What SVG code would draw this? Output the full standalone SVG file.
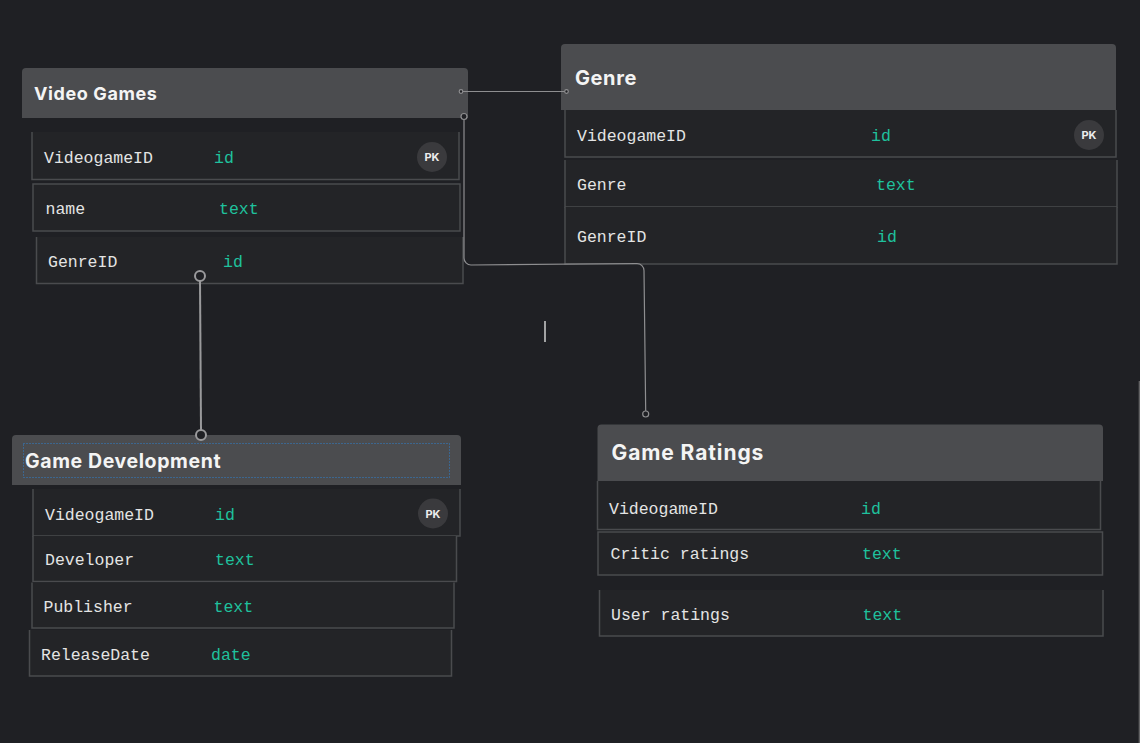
<svg xmlns="http://www.w3.org/2000/svg" width="1140" height="743" viewBox="0 0 1140 743">
<style>
.hdr{fill:#4b4c4f}
.row{fill:#232427}
.bd{fill:none;stroke:#4a4b4e;stroke-width:1.5}
.title{font-family:Inter,"Noto Sans","Liberation Sans",sans-serif;font-weight:700;fill:#f4f4f4;letter-spacing:0.6px}
.f{font-family:"Liberation Mono","DejaVu Sans Mono",monospace;font-size:16.5px;fill:#e4e4e4}
.t{font-family:"Liberation Mono","DejaVu Sans Mono",monospace;font-size:16.5px;fill:#1fc19d}
.pkc{fill:#3a3a3d}
.pk{font-family:Inter,"Liberation Sans",sans-serif;font-weight:700;font-size:11px;fill:#ececec;text-anchor:middle}
.conn{fill:none;stroke:#8e8e90;stroke-width:1.2}
.conn2{fill:none;stroke:#9a9a9c;stroke-width:2}
.dot{fill:#1f2024;stroke:#8e8e90;stroke-width:1.2}
.dot2{fill:#1f2024;stroke:#9a9a9c;stroke-width:2}
</style>
<rect width="1140" height="743" fill="#1f2024"/>
<line x1="1139.3" y1="381" x2="1139.3" y2="743" stroke="#6a6a6c" stroke-width="1.2"/>
<line x1="545" y1="321" x2="545" y2="342" stroke="#cfcfcf" stroke-width="1.5"/>

<g id="video-games">
<path class="hdr" d="M22 118V72a4 4 0 0 1 4-4h438a4 4 0 0 1 4 4v46z"/>
<text class="title" x="34" y="99.5" font-size="18">Video Games</text>
<rect class="row" x="32" y="132" width="427" height="47.5"/>
<path class="bd" d="M32 132V179.5H459V132"/>
<text class="f" x="44" y="163">VideogameID</text>
<text class="t" x="214" y="163">id</text>
<circle class="pkc" cx="432" cy="157" r="15"/>
<text class="pk" x="432" y="161">PK</text>
<rect class="row" x="33" y="184" width="427" height="47" />
<rect class="bd" x="33" y="184" width="427" height="47"/>
<text class="f" x="45.5" y="214">name</text>
<text class="t" x="219" y="214">text</text>
<rect class="row" x="36.5" y="237" width="426.5" height="46.5"/>
<path class="bd" d="M36.5 237V283.5H463V237"/>
<text class="f" x="48" y="267">GenreID</text>
<text class="t" x="223" y="267">id</text>
</g>

<g id="genre">
<path class="hdr" d="M561 110V48a4 4 0 0 1 4-4h547a4 4 0 0 1 4 4v62z"/>
<text class="title" x="575" y="85" font-size="20">Genre</text>
<rect class="row" x="565" y="110" width="551" height="47"/>
<path class="bd" d="M565 110V157H1116V110"/>
<text class="f" x="577" y="141">VideogameID</text>
<text class="t" x="871" y="141">id</text>
<circle class="pkc" cx="1089" cy="135" r="15"/>
<text class="pk" x="1089" y="139">PK</text>
<rect class="row" x="565" y="160" width="552" height="47"/>
<path class="bd" d="M565 160V207H1117V160"/>
<text class="f" x="577" y="190">Genre</text>
<text class="t" x="876" y="190">text</text>
<rect class="row" x="565" y="207" width="552" height="57"/>
<path class="bd" d="M565 207V264H1117V207"/>
<text class="f" x="577" y="242">GenreID</text>
<text class="t" x="877" y="242">id</text>
</g>

<g id="game-development">
<path class="hdr" d="M12 485V439a4 4 0 0 1 4-4h441a4 4 0 0 1 4 4v46z"/>
<rect x="23.5" y="443.5" width="426" height="34" fill="none" stroke="#2f80d0" stroke-width="1" stroke-dasharray="1 2"/>
<text class="title" x="25" y="467.5" font-size="19.5">Game Development</text>
<rect class="row" x="33" y="489" width="427" height="47"/>
<path class="bd" d="M33 489V536H460V489"/>
<text class="f" x="45" y="520">VideogameID</text>
<text class="t" x="215" y="520">id</text>
<circle class="pkc" cx="433" cy="513.5" r="15"/>
<text class="pk" x="433" y="517.5">PK</text>
<rect class="row" x="33" y="536" width="423.5" height="45.5"/>
<path class="bd" d="M33 536V581.5H456.5V536"/>
<text class="f" x="45" y="565">Developer</text>
<text class="t" x="215" y="565">text</text>
<rect class="row" x="32" y="582.5" width="422" height="45.5"/>
<path class="bd" d="M32 582.5V628H454V582.5"/>
<text class="f" x="43.5" y="611.5">Publisher</text>
<text class="t" x="213.5" y="611.5">text</text>
<rect class="row" x="29.5" y="630" width="422" height="46"/>
<path class="bd" d="M29.5 630V676H451.5V630"/>
<text class="f" x="41" y="659.5">ReleaseDate</text>
<text class="t" x="211" y="659.5">date</text>
</g>

<g id="game-ratings">
<path class="hdr" d="M597.5 481V428.5a4 4 0 0 1 4-4h497.5a4 4 0 0 1 4 4V481z"/>
<text class="title" x="611.5" y="460" font-size="21" style="letter-spacing:0.9px">Game Ratings</text>
<rect class="row" x="597.5" y="481" width="503" height="48.5"/>
<path class="bd" d="M597.5 481V529.5H1100.5V481"/>
<text class="f" x="609" y="513.5">VideogameID</text>
<text class="t" x="861" y="513.5">id</text>
<rect class="row" x="598" y="532" width="504.5" height="43"/>
<rect class="bd" x="598" y="532" width="504.5" height="43"/>
<text class="f" x="610.5" y="558.5">Critic ratings</text>
<text class="t" x="862" y="558.5">text</text>
<rect class="row" x="599.5" y="590" width="503.5" height="46"/>
<path class="bd" d="M599.5 590V636H1103V590"/>
<text class="f" x="611" y="620">User ratings</text>
<text class="t" x="862.5" y="620">text</text>
</g>

<g id="connectors">
<line class="conn" x1="461" y1="91.5" x2="566.5" y2="91.5"/>
<circle class="dot" cx="461" cy="91.5" r="1.8"/>
<circle class="dot" cx="566.5" cy="91.5" r="1.8"/>
<path class="conn" d="M464 117V258a7 7 0 0 0 7 7L637 263.5a7 7 0 0 1 7 7L645.7 411"/>
<circle class="dot" cx="464" cy="116.5" r="3"/>
<circle class="dot" cx="645.7" cy="414" r="3"/>
<line class="conn2" x1="200" y1="281" x2="201" y2="430"/>
<circle class="dot2" cx="200" cy="276" r="5"/>
<circle class="dot2" cx="201" cy="435" r="5"/>
</g>
</svg>
